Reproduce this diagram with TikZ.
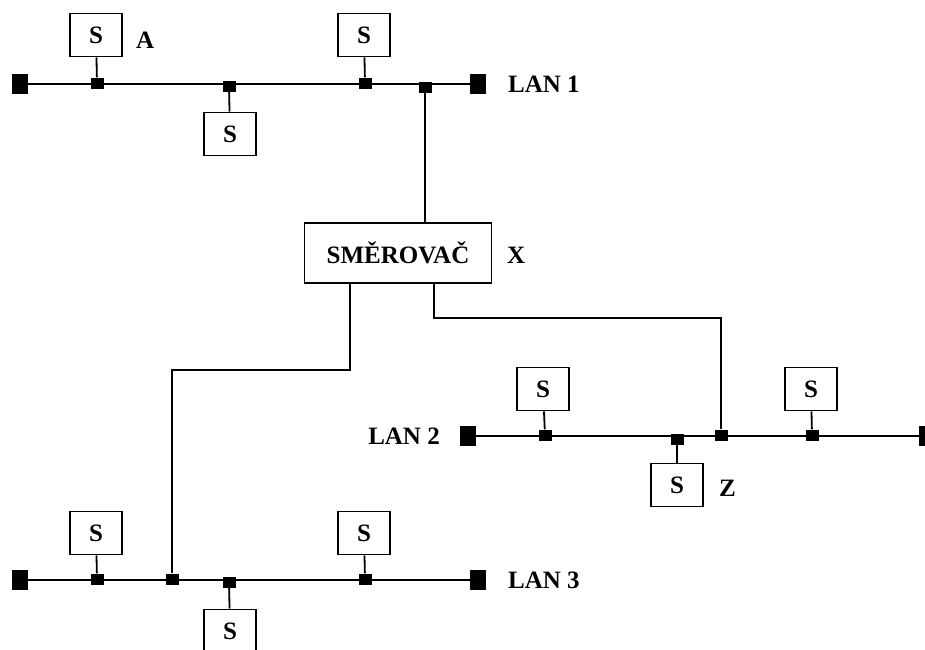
\documentclass[tikz,border=0pt]{standalone}
\usepackage{fontspec}
\setmainfont{Liberation Serif}
\begin{document}
\begin{tikzpicture}[x=1pt,y=-1pt,
 term/.style={fill=black, draw=none, minimum width=16pt, minimum height=20pt, inner sep=0},
 tap/.style={fill=black, draw=none, minimum width=13pt, minimum height=11pt, inner sep=0},
 stn/.style={draw, line width=1.6pt, fill=white, minimum width=52pt, minimum height=43pt, inner sep=0, font=\fontsize{25}{25}\selectfont\bfseries},
 lbl/.style={font=\fontsize{25}{25}\selectfont\bfseries, inner sep=0},
 wire/.style={line width=1.8pt}]
\useasboundingbox (0,0) rectangle (925,649);
\clip (0,0) rectangle (925,649);
% LAN 1
\node[term] (t1a) at (20,84) {};
\node[term] (t1b) at (478,84) {};
\draw[wire] (t1a) -- (t1b);
\node[tap] (p1a) at (97,83) {};
\node[tap] (p1b) at (229,86) {};
\node[tap] (p1c) at (365,83) {};
\node[tap] (p1d) at (425,87) {};
\node[stn] (s1a) at (96,35) {S};
\node[stn] (s1b) at (230,134) {S};
\node[stn] (s1c) at (364,35) {S};
\draw[wire] (s1a) -- (p1a);
\draw[wire] (s1b) -- (p1b);
\draw[wire] (s1c) -- (p1c);
\node[lbl, anchor=west] (la) at (136,40) {A};
\node[lbl, anchor=west] (l1) at (508,84) {LAN 1};
% router
\node[stn, minimum width=187pt, minimum height=60pt] (rt) at (398,253) {SMĚROVAČ};
\node[lbl, anchor=west] (lx) at (507,255) {X};
\draw[wire] (p1d) -- (p1d |- rt.north);
% LAN 2
\node[term] (t2a) at (468,436) {};
\node[term] (t2b) at (927,436) {};
\draw[wire] (t2a) -- (t2b);
\node[tap] (p2a) at (545,435) {};
\node[tap] (p2b) at (677,439) {};
\node[tap] (p2c) at (721,435) {};
\node[tap] (p2d) at (812,435) {};
\node[stn] (s2a) at (543,389) {S};
\node[stn] (s2b) at (811,389) {S};
\node[stn] (s2c) at (677,485) {S};
\draw[wire] (s2a) -- (p2a);
\draw[wire] (s2b) -- (p2d);
\draw[wire] (s2c) -- (p2b);
\node[lbl, anchor=east] (l2) at (440,436) {LAN 2};
\node[lbl, anchor=west] (lz) at (719,488) {Z};
% LAN 3
\node[term] (t3a) at (20,580) {};
\node[term] (t3b) at (478,580) {};
\draw[wire] (t3a) -- (t3b);
\node[tap] (p3a) at (97,579) {};
\node[tap] (p3b) at (172,579) {};
\node[tap] (p3c) at (229,582) {};
\node[tap] (p3d) at (365,579) {};
\node[stn] (s3a) at (96,533) {S};
\node[stn] (s3b) at (364,533) {S};
\node[stn] (s3c) at (230,631) {S};
\draw[wire] (s3a) -- (p3a);
\draw[wire] (s3b) -- (p3d);
\draw[wire] (s3c) -- (p3c);
\node[lbl, anchor=west] (l3) at (508,580) {LAN 3};
% router links
\coordinate (rb1) at (350,370);
\coordinate (rb2) at (434,318);
\draw[wire] (rb1 |- rt.south) -- (rb1) -| (p3b);
\draw[wire] (rb2 |- rt.south) -- (rb2) -| (p2c);
\end{tikzpicture}
\end{document}
